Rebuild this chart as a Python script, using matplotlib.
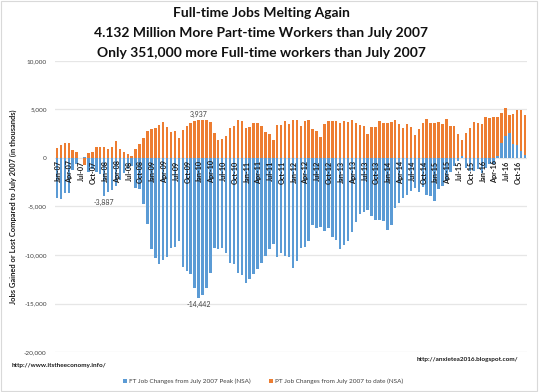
import matplotlib
matplotlib.use("Agg")
import matplotlib.pyplot as plt
from matplotlib.patches import Rectangle

plt.rcParams['font.family'] = ['Lato', 'DejaVu Sans']

# month categories Jan-07 .. Dec-16
month_names = ["Jan", "Feb", "Mar", "Apr", "May", "Jun",
               "Jul", "Aug", "Sep", "Oct", "Nov", "Dec"]
years = list(range(7, 17))
categories = [f"{m}-{y:02d}" for y in years for m in month_names]

# FT job changes from July 2007 peak (thousands, NSA)
ft = [-4160, -4200, -3580, -3650, -1200, -650, 0, 100, -1440, -1170, -1400, -1700,
      -3887, -3500, -3250, -2900, -2300, -1500, -1170, -830, -3060, -3230, -4780, -6850,
      -9430, -10290, -10970, -10530, -10180, -9250, -9150, -8570, -11250, -11660, -11940, -13380,
      -14442, -14100, -13360, -11850, -9250, -9420, -9250, -9770, -10870, -10900, -11900, -12100,
      -12870, -12520, -12000, -11490, -10800, -10100, -9420, -8900, -10220, -9770, -10110, -10180,
      -11320, -10630, -9250, -9180, -8570, -6910, -7190, -7120, -7530, -7190, -8150, -8460,
      -9360, -9010, -8570, -7640, -6570, -5745, -5540, -5370, -5950, -6360, -6360, -6540,
      -7460, -6950, -5130, -4610, -4090, -3820, -3370, -3130, -3470, -2990, -3820, -3890,
      -4440, -3230, -2890, -2370, -1410, -830, -300, 200, -1000, -1340, -1340, -1170,
      -1510, -1000, -650, -650, 206, 1580, 2270, 2614, 1480, 1307, 722, 351]

# PT job changes from July 2007 to date (thousands, NSA)
pt = [1030, 1340, 1550, 1550, 860, 650, 0, -750, 550, 585, 1135, 1135,
      1135, 930, 1100, 1720, 960, 650, 380, 210, 960, 1410, 2030, 2790,
      2990, 3130, 3440, 3680, 3200, 2680, 2750, 2060, 2920, 3270, 3610, 3850,
      3937, 3920, 3920, 3750, 2550, 1860, 1960, 2270, 3130, 3270, 3890, 3780,
      3060, 3230, 3610, 3650, 3270, 2720, 2510, 1890, 3370, 3370, 3780, 3470,
      3890, 3960, 3340, 3820, 3920, 2990, 2790, 2170, 3510, 3850, 3850, 3820,
      3580, 3850, 3720, 3890, 3610, 3370, 3300, 2480, 3200, 3230, 3780, 3610,
      3610, 3680, 3920, 3540, 3060, 3470, 3230, 2410, 2990, 3580, 4060, 3610,
      3610, 3680, 3510, 4030, 3340, 3270, 2440, 1660, 2546, 3060, 3715, 3578,
      3509, 4197, 4094, 4231, 4025, 3030, 2856, 1824, 3095, 3647, 4266, 4132]

y_ticks = [10000, 5000, 0, -5000, -10000, -15000, -20000]
y_tick_labels = ["10,000", "5,000", "0", "-5,000", "-10,000", "-15,000", "-20,000"]

title_lines = ["Full-time Jobs Melting Again",
               "4.132 Million More Part-time Workers than July 2007",
               "Only 351,000 more Full-time workers than July 2007"]

labelled_pt = "Jan-10"
labelled_ft = ["Jan-08", "Jan-10"]

blue = "#5B9BD5"
orange = "#ED7D31"

fig = plt.figure(figsize=(5.39, 3.92), dpi=100)
fig.patch.set_facecolor("white")
fig.add_artist(Rectangle((0.002, 0.003), 0.995, 0.994, transform=fig.transFigure,
                         fill=False, edgecolor="#d9d9d9", linewidth=0.8))

ax = fig.add_axes([55/539, 1-352/392, 472/539, (352-61)/392])
x = list(range(len(categories)))
pt_bottom = [max(f, 0) if p >= 0 else min(f, 0) for f, p in zip(ft, pt)]
ax.bar(x, ft, width=0.62, color=blue, zorder=2)
ax.bar(x, pt, bottom=pt_bottom, width=0.62, color=orange, zorder=2)

ax.set_xlim(-0.5, len(categories) - 0.5)
ax.set_ylim(-20000, 10000)
ax.set_yticks(y_ticks)
ax.set_yticklabels(y_tick_labels, fontsize=4.6, color="#404040")
ax.tick_params(axis='y', length=0, pad=6)
ax.set_xticks([])
ax.grid(axis='y', color="#e6e6e6", linewidth=0.9, zorder=0)
for s in ax.spines.values():
    s.set_visible(False)
ax.axhline(0, color="#d9d9d9", linewidth=0.6, zorder=1)

for i in range(0, len(categories), 3):
    ax.text(i + 0.3, -250, categories[i], rotation=90, ha='center', va='top',
            fontsize=5.2, fontweight='bold', color="#1a1a1a", zorder=3)

# data labels
i_pt = categories.index(labelled_pt)
ax.text(i_pt, pt[i_pt] + 200, f"{pt[i_pt]:,}", ha='center', va='bottom',
        fontsize=5, color="#404040")
for lab in labelled_ft:
    j = categories.index(lab)
    ax.text(j, ft[j] - 300, f"{ft[j]:,}", ha='center', va='top',
            fontsize=5, color="#404040")

ax.set_ylabel("Jobs Gained or Lost Compared to July 2007 (in thousands)",
              fontsize=5.4, fontweight='bold', color="#1a1a1a", labelpad=5)

for k, line in enumerate(title_lines):
    fig.text(261/539, 1 - (13 + 20 * k) / 392, line, ha='center', va='center',
             fontsize=10, fontweight='bold', color="#111111")

fig.text(12/539, 1 - 365/392, "http://www.itstheeconomy.info/", fontsize=4.6,
         fontweight='bold', color="#1a1a1a", ha='left', va='center')
fig.text(518/539, 1 - 360/392, "http://anxietea2016.blogspot.com/", fontsize=4.6,
         fontweight='bold', color="#1a1a1a", ha='right', va='center')

# legend
fig.add_artist(Rectangle((123/539, 1 - 383/392), 4/539, 4/392, transform=fig.transFigure,
                         facecolor=blue, edgecolor='none'))
fig.text(129/539, 1 - 381/392, "FT Job Changes from July 2007 Peak (NSA)", fontsize=4.6,
         color="#404040", ha='left', va='center')
fig.add_artist(Rectangle((269/539, 1 - 383/392), 4/539, 4/392, transform=fig.transFigure,
                         facecolor=orange, edgecolor='none'))
fig.text(275/539, 1 - 381/392, "PT Job Changes from July 2007 to date (NSA)", fontsize=4.6,
         color="#404040", ha='left', va='center')

fig.savefig("out.png", dpi=100)
